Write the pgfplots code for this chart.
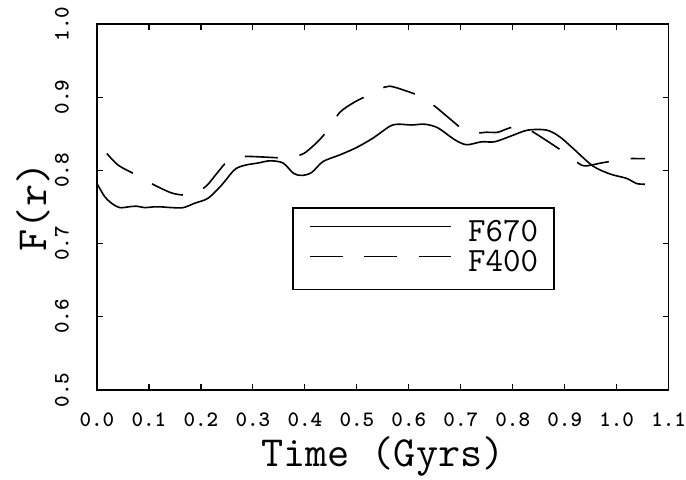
\documentclass[border=0pt]{standalone}
\usepackage{fontspec}
\usepackage{pgfplots}
\pgfplotsset{compat=1.18}
\begin{document}
\begin{tikzpicture}[x=1pt,y=1pt]
\begin{axis}[
  scale only axis,
  width=572pt, height=366pt,
  xmin=0, xmax=1.1, ymin=0.5, ymax=1.0,
  xtick={0,0.1,...,1.1},
  ytick={0.5,0.6,0.7,0.8,0.9,1.0},
  tick align=inside,
  major tick length=6pt,
  axis line style={line width=1.6pt},
  tick style={line width=1.2pt, black},
  /pgf/number format/assume math mode=true,
  /pgf/number format/.cd, fixed, fixed zerofill, precision=1, /pgfplots/.cd,
  ticklabel style={font=\ttfamily\bfseries\fontsize{22}{23}\selectfont, inner sep=0pt},
  xticklabel style={anchor=north},
  xticklabel shift=23pt,
  yticklabel style={rotate=90, anchor=south},
  yticklabel shift=28pt,
  xlabel={Time (Gyrs)},
  ylabel={F(r)},
  label style={font=\ttfamily\fontsize{43}{45}\selectfont, inner sep=0pt},
  xlabel style={at={(axis description cs:0.5,-0.21)}, anchor=base},
  ylabel style={at={(axis description cs:-0.088,0.5)}, anchor=base, rotate=0},
  clip=false,
  legend cell align=left,
  legend image code/.code={\draw[#1] (0pt,7pt) -- (142pt,7pt);},
  legend style={at={(0.341,0.5)}, anchor=north west, draw=black, line width=1.6pt,
    font=\ttfamily\fontsize{34}{34}\selectfont, inner xsep=16pt, inner ysep=11.5pt,
    row sep=1pt, column sep=16pt,
    nodes={inner sep=0pt, text height=22pt, text depth=7pt}},
]
\addplot[black, line width=1.6pt, smooth] coordinates {
(0.000,0.782) (0.015,0.764) (0.030,0.754) (0.044,0.749) (0.060,0.750) (0.076,0.751)
(0.092,0.749) (0.108,0.750) (0.124,0.750) (0.145,0.749) (0.166,0.749) (0.188,0.755)
(0.214,0.762) (0.240,0.780) (0.265,0.801) (0.285,0.807) (0.310,0.810) (0.333,0.813)
(0.358,0.810) (0.378,0.796) (0.394,0.793) (0.413,0.797) (0.435,0.812) (0.467,0.821)
(0.499,0.831) (0.531,0.844) (0.563,0.860) (0.579,0.863) (0.605,0.862) (0.631,0.863)
(0.656,0.858) (0.688,0.842) (0.711,0.835) (0.740,0.839) (0.765,0.839) (0.797,0.847)
(0.829,0.855) (0.865,0.855) (0.890,0.846) (0.916,0.830) (0.954,0.806) (0.987,0.795)
(1.019,0.789) (1.038,0.782) (1.054,0.781)
};
\addlegendentry{F670}
\addplot[black, line width=1.6pt, smooth, dash pattern=on 33pt off 22pt] coordinates {
(0.019,0.823) (0.041,0.807) (0.072,0.795) (0.090,0.788) (0.110,0.780) (0.144,0.769)
(0.171,0.766) (0.190,0.769) (0.211,0.779) (0.232,0.797) (0.253,0.814) (0.272,0.818)
(0.291,0.819) (0.325,0.818) (0.358,0.817) (0.380,0.819) (0.398,0.823) (0.420,0.836)
(0.442,0.853) (0.467,0.879) (0.495,0.893) (0.523,0.903) (0.545,0.911) (0.563,0.915)
(0.593,0.909) (0.623,0.901) (0.640,0.893) (0.658,0.883) (0.683,0.868) (0.708,0.854)
(0.730,0.851) (0.749,0.852) (0.771,0.852) (0.790,0.857) (0.812,0.861) (0.830,0.856)
(0.849,0.848) (0.875,0.836) (0.902,0.823) (0.920,0.813) (0.938,0.806) (0.970,0.810)
(1.003,0.814) (1.025,0.816) (1.044,0.816) (1.054,0.816)
};
\addlegendentry{F400}
\path (rel axis cs:-0.1696,-0.2459) rectangle (rel axis cs:1.0297,1.0656);
\end{axis}
\end{tikzpicture}
\end{document}
